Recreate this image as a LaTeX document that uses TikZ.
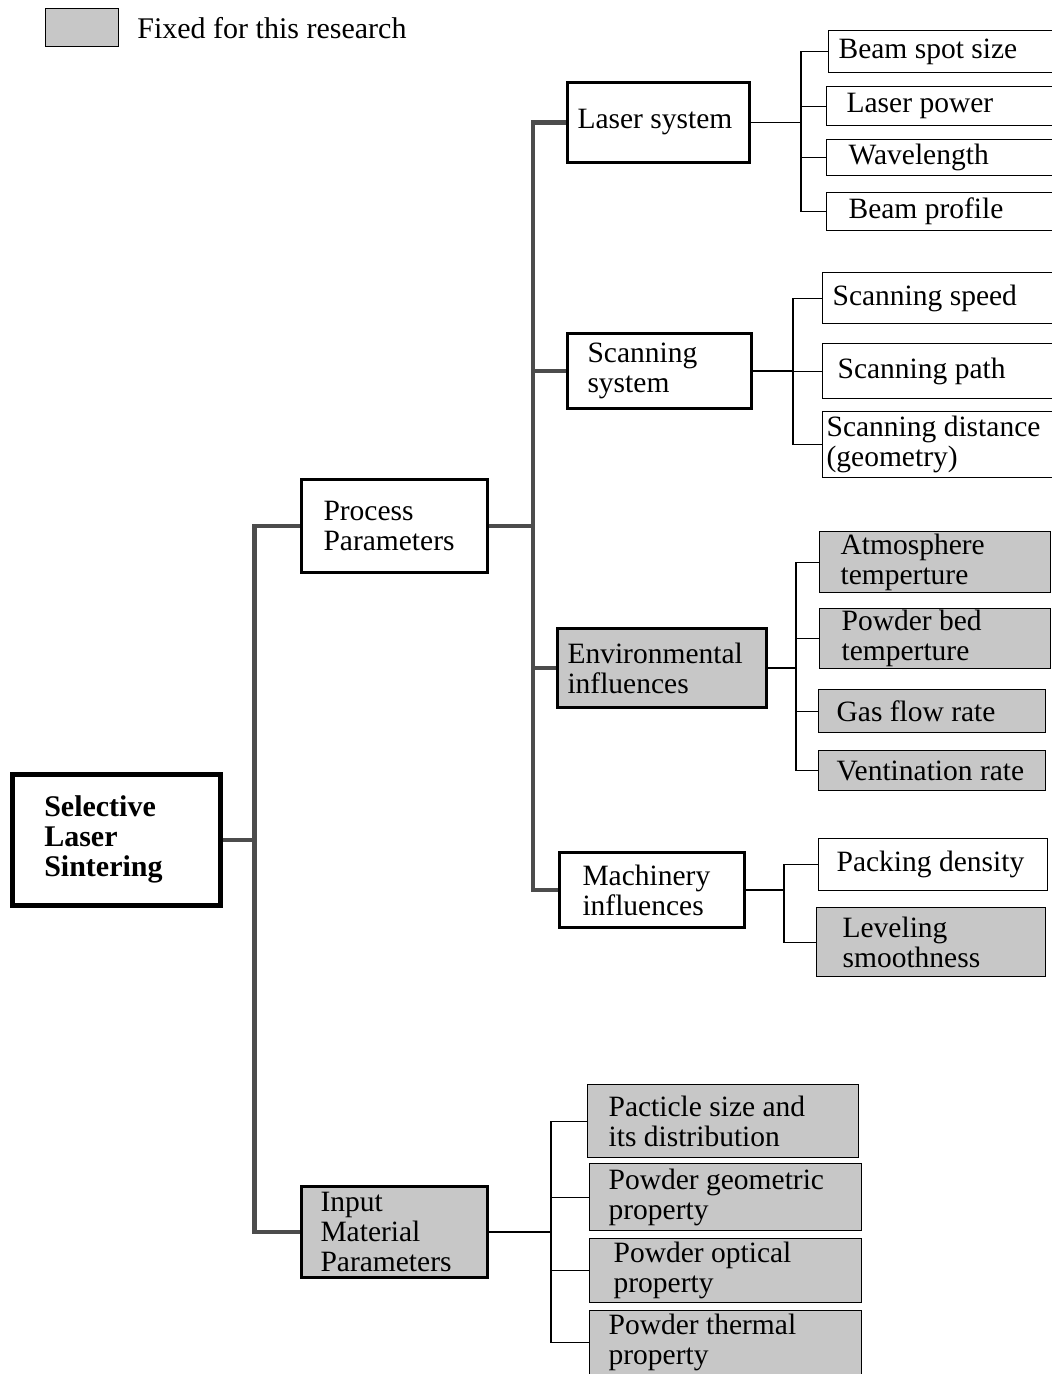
\documentclass[tikz,border=0pt]{standalone}
\usepackage{fontspec}
\setmainfont{Liberation Serif}
\usetikzlibrary{positioning,calc}
\definecolor{FixedGray}{gray}{0.78}
\newcommand{\diagfont}{\fontsize{29.5}{30}\selectfont}
\tikzset{
  box/.style={draw, line width=3pt, anchor=north west, align=flush left, inner ysep=0pt, font=\diagfont},
  leaf/.style={draw, line width=1.2pt, anchor=north west, align=flush left, inner ysep=0pt, font=\diagfont},
  fixed/.style={fill=FixedGray},
  spine/.style={line width=4.5pt, draw=black!70},
  twig/.style={line width=1.2pt, draw=black}
}

\begin{document}
\begin{tikzpicture}[x=1pt, y=-1pt]
\useasboundingbox (0,0) rectangle (1052,1374);
% legend
\node[leaf, fixed, minimum width=73pt, minimum height=38pt, inner sep=0pt] (legbox) at (45,8) {};
\node[font=\fontsize{30}{30}\selectfont, inner sep=0pt, right=18pt of legbox] (legtext) {Fixed for this research};
% main levels
\node[box, line width=4.5pt, minimum height=131pt, inner xsep=32pt, text width=144pt, font=\fontsize{30}{30}\selectfont\bfseries] (sls) at (10,772) {Selective\\Laser\\Sintering};
\node[box, minimum height=93pt, inner xsep=22pt, text width=142pt] (pp) at (300,478) {Process\\Parameters};
\node[box, fixed, minimum height=91pt, inner xsep=19pt, text width=148pt] (imp) at (300,1185) {Input\\Material\\Parameters};
\node[box, minimum height=80pt, inner xsep=10pt, text width=162pt] (lsys) at (566,81) {Laser system};
\node[box, minimum height=75pt, inner xsep=20pt, text width=144pt] (ssys) at (566,332) {Scanning\\system};
\node[box, fixed, minimum height=79pt, inner xsep=10pt, text width=189pt] (env) at (556,627) {Environmental\\influences};
\node[box, minimum height=75pt, inner xsep=23pt, text width=139pt] (mach) at (558,851) {Machinery\\influences};
% laser system
\node[leaf, minimum height=42pt, inner xsep=10pt, text width=212pt] (bss) at (828,30) {Beam spot size};
\node[leaf, minimum height=39pt, inner xsep=20pt, text width=194pt] (lpw) at (826,86) {Laser power};
\node[leaf, minimum height=36pt, inner xsep=22pt, text width=190pt] (wl) at (826,139) {Wavelength};
\node[leaf, minimum height=38pt, inner xsep=22pt, text width=190pt] (bp) at (826,192) {Beam profile};
% scanning system
\node[leaf, minimum height=51pt, inner xsep=10pt, text width=218pt] (sspd) at (822,272) {Scanning speed};
\node[leaf, minimum height=55pt, inner xsep=15pt, text width=208pt] (spath) at (822,343) {Scanning path};
\node[leaf, minimum height=66pt, inner xsep=4pt, text width=230pt] (sdist) at (822,411) {Scanning distance\\(geometry)};
% environmental influences
\node[leaf, fixed, minimum height=61pt, inner xsep=21pt, text width=189pt] (atm) at (819,531) {Atmosphere\\temperture};
\node[leaf, fixed, minimum height=60pt, inner xsep=22pt, text width=187pt] (pbed) at (819,608) {Powder bed\\temperture};
\node[leaf, fixed, minimum height=43pt, inner xsep=18pt, text width=191pt] (gas) at (818,689) {Gas flow rate};
\node[leaf, fixed, minimum height=40pt, inner xsep=18pt, text width=191pt] (vent) at (818,750) {Ventination rate};
% machinery influences
\node[leaf, minimum height=52pt, inner xsep=18pt, text width=193pt] (pack) at (818,838) {Packing density};
\node[leaf, fixed, minimum height=69pt, inner xsep=26pt, text width=177pt] (lev) at (816,907) {Leveling\\smoothness};
% input material parameters
\node[leaf, fixed, minimum height=73pt, inner xsep=21pt, text width=229pt] (pac) at (587,1084) {Pacticle size and\\its distribution};
\node[leaf, fixed, minimum height=67pt, inner xsep=19pt, text width=234pt] (pgeo) at (589,1163) {Powder geometric\\property};
\node[leaf, fixed, minimum height=64pt, inner xsep=24pt, text width=224pt] (popt) at (589,1238) {Powder optical\\property};
\node[leaf, fixed, minimum height=64pt, inner xsep=19pt, text width=234pt] (pth) at (589,1310) {Powder thermal\\property};
% thick connectors
\draw[spine] (sls.east) -- ++(32,0) coordinate (j0);
\draw[spine] (j0) |- (pp.west);
\draw[spine] (j0) |- (imp.west);
\draw[spine] (pp.east) -- ++(44,0) coordinate (j1);
\foreach \n in {lsys,ssys,env,mach}
  \draw[spine] (j1) |- (\n.west);
% thin connectors
\draw[twig] (lsys.east) -- ++(50,0) coordinate (jl);
\foreach \n in {bss,lpw,wl,bp}
  \draw[twig] (jl) |- (\n.west);
\draw[twig] (ssys.east) -- ++(40,0) coordinate (js);
\foreach \n in {sspd,spath,sdist}
  \draw[twig] (js) |- (\n.west);
\draw[twig] (env.east) -- ++(28,0) coordinate (je);
\foreach \n in {atm,pbed,gas,vent}
  \draw[twig] (je) |- (\n.west);
\draw[twig] (mach.east) -- ++(38,0) coordinate (jm);
\foreach \n in {pack,lev}
  \draw[twig] (jm) |- (\n.west);
\draw[twig] (imp.east) -- ++(62,0) coordinate (ji);
\foreach \n in {pac,pgeo,popt,pth}
  \draw[twig] (ji) |- (\n.west);
\end{tikzpicture}
\end{document}
